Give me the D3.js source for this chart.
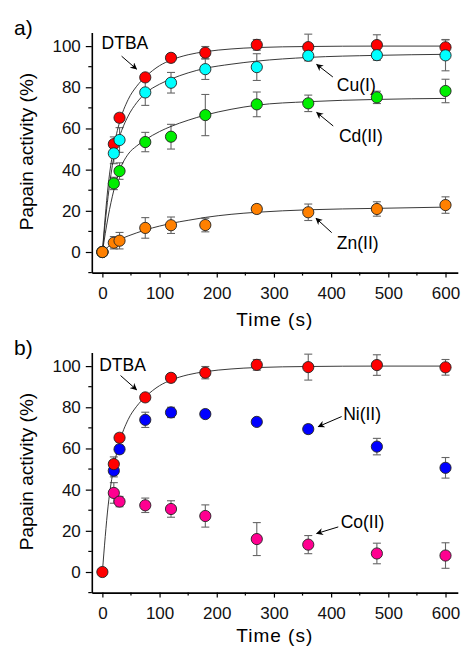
<!DOCTYPE html>
<html>
<head>
<meta charset="utf-8">
<script src="https://cdn.jsdelivr.net/npm/d3@7"></script>
<style>
  body { margin: 0; background: #fff; }
  svg { font-family: Arial, "Liberation Sans", sans-serif; }
</style>
</head>
<body>
<div id="chart"></div>
<script>
// sampling times (s)
const times = [0, 20, 30, 75, 120, 180, 270, 360, 480, 600];
const timesNoZero = [20, 30, 75, 120, 180, 270, 360, 480, 600];

// panel a
const dtba = [0, 52.4, 65.2, 84.8, 94.3, 96.8, 100.6, 99.5, 100.5, 99.4];
const dtbaErr = [0, 3.5, 2, 1, 2, 3, 2.6, 6.3, 5, 3.8];
const cu = [0, 47.9, 54.4, 77.5, 82.2, 88.8, 89.8, 95.3, 95.6, 95.5];
const cuErr = [0, 5, 6, 6.3, 5, 5, 6.5, 2.5, 2.5, 7.5];
const cd = [0, 33.3, 39.3, 53.4, 56, 66.5, 71.7, 72.2, 75.1, 78.2];
const cdErr = [0, 3, 4, 4.7, 6, 10, 6, 4, 3, 5.7];
const zn = [0, 4.5, 5.5, 11.7, 13, 13.1, 20.9, 19.3, 20.9, 22.8];
const znErr = [0, 3, 4, 5, 4, 3.3, 2, 4, 3.5, 4];

// panel b
const ni = [49.2, 59.6, 73.9, 77.5, 76.7, 72.9, 69.4, 60.9, 50.6];
const niErr = [3, 2, 3.7, 2.5, 1.5, 1.5, 2, 4, 5];
const co = [38.4, 34.2, 32.4, 30.6, 27.2, 16, 13.3, 9, 8];
const coErr = [5, 2.5, 3.5, 4, 5.4, 8, 4.4, 5, 6.2];

// fitted curves
const fitTimes = [0, 10, 20, 30, 45, 60, 75, 100, 120, 150, 180, 225, 270, 360, 480, 600];
const dtbaFit = [0, 32, 51, 63, 74, 80.5, 85, 90.5, 93.2, 95.8, 97.3, 98.6, 99.3, 99.8, 100, 100];
const cuFit = [0, 27, 46, 56, 66, 72.5, 77, 81.5, 84, 87, 89.2, 91.2, 92.7, 94.5, 95.5, 96];
const cdFit = [0, 17, 30, 39.5, 47.5, 51.5, 54.5, 58.5, 61, 64, 66.5, 69.3, 71.3, 73, 74.1, 74.6];
const znFit = [0, 2.5, 4.5, 6, 7.8, 9.3, 10.7, 12.6, 13.9, 15.4, 16.8, 18.3, 19.3, 20.5, 21.2, 21.8];

const xTicks = [0, 100, 200, 300, 400, 500, 600];
const yTicks = [0, 20, 40, 60, 80, 100];

const width = 461, height = 647;
const svg = d3.select('#chart').append('svg')
    .attr('width', width)
    .attr('height', height);

svg.append('defs').append('marker')
    .attr('id', 'arrow')
    .attr('viewBox', '0 0 10 10')
    .attr('refX', 9).attr('refY', 5)
    .attr('markerWidth', 7).attr('markerHeight', 7)
    .attr('markerUnits', 'userSpaceOnUse')
    .attr('orient', 'auto')
    .append('path')
    .attr('d', 'M0,0 L10,5 L0,10 L3,5 Z')
    .attr('fill', '#000');

const x = d3.scaleLinear().domain([-18.5, 621.5]).range([91.8, 457.8]);
const y = d3.scaleLinear().domain([-10, 106.6]).range([272.6, 32.5]);

function drawPanel(g, label, titleY, series, fits, notes) {
    // axes
    const xAxis = g.append('g').attr('transform', `translate(0,${y.range()[0]})`);
    xAxis.call(d3.axisBottom(x).tickValues(xTicks).tickSize(5).tickPadding(9).tickSizeOuter(0));
    xAxis.selectAll('.minor').data(d3.range(50, 601, 100)).enter().append('line')
        .attr('x1', d => x(d)).attr('x2', d => x(d))
        .attr('y1', 0).attr('y2', 3).attr('stroke', '#000').attr('stroke-width', 1.2);

    const yAxis = g.append('g').attr('transform', `translate(${x.range()[0]},0)`);
    yAxis.call(d3.axisLeft(y).tickValues(yTicks).tickSize(6).tickPadding(5).tickSizeOuter(0));
    yAxis.selectAll('.minor').data(d3.range(-10, 101, 20)).enter().append('line')
        .attr('x1', 0).attr('x2', -3.5)
        .attr('y1', d => y(d)).attr('y2', d => y(d))
        .attr('stroke', '#000').attr('stroke-width', 1.2);

    g.selectAll('.domain').attr('stroke-width', 1.6);
    g.selectAll('.tick line').attr('stroke-width', 1.2);
    g.selectAll('.tick text').attr('font-size', 17).attr('fill', '#111')
        .attr('font-family', 'Arial, "Liberation Sans", sans-serif');

    g.append('text')
        .attr('x', (x.range()[0] + x.range()[1]) / 2)
        .attr('y', titleY)
        .attr('text-anchor', 'middle')
        .attr('font-size', 19)
        .attr('letter-spacing', 1)
        .text('Time (s)');

    g.append('text')
        .attr('transform', `translate(33,${(y.range()[0] + y.range()[1]) / 2 - 1}) rotate(-90)`)
        .attr('text-anchor', 'middle')
        .attr('font-size', 19)
        .text('Papain activity (%)');

    g.append('text')
        .attr('x', 14).attr('y', 35)
        .attr('font-size', 21)
        .text(label);

    // error bars
    series.forEach(s => {
        const eb = g.append('g').attr('stroke', '#666').attr('stroke-width', 1.1);
        s.t.forEach((t, i) => {
            const e = s.err[i];
            if (!e) return;
            const cx = x(t), y1 = y(s.v[i] - e), y2 = y(s.v[i] + e);
            eb.append('line').attr('x1', cx).attr('x2', cx).attr('y1', y1).attr('y2', y2);
            eb.append('line').attr('x1', cx - 4).attr('x2', cx + 4).attr('y1', y1).attr('y2', y1);
            eb.append('line').attr('x1', cx - 4).attr('x2', cx + 4).attr('y1', y2).attr('y2', y2);
        });
    });

    // fitted curves
    const line = d3.line().x(d => x(d[0])).y(d => y(d[1])).curve(d3.curveMonotoneX);
    fits.forEach(f => {
        g.append('path')
            .attr('d', line(fitTimes.map((t, i) => [t, f[i]])))
            .attr('fill', 'none')
            .attr('stroke', '#222')
            .attr('stroke-width', 0.9);
    });

    // markers
    series.forEach(s => {
        g.append('g').selectAll('circle')
            .data(s.t.map((t, i) => [t, s.v[i]]))
            .enter().append('circle')
            .attr('cx', d => x(d[0]))
            .attr('cy', d => y(d[1]))
            .attr('r', 5.6)
            .attr('fill', s.color)
            .attr('stroke', '#222')
            .attr('stroke-width', 0.9);
    });

    // labels with arrows
    notes.forEach(n => {
        g.append('text')
            .attr('x', x(n.tx)).attr('y', y(n.ty))
            .attr('font-size', 17.5)
            .text(n.text);
        g.append('line')
            .attr('x1', x(n.a[0])).attr('y1', y(n.a[1]))
            .attr('x2', x(n.a[2])).attr('y2', y(n.a[3]))
            .attr('stroke', '#000').attr('stroke-width', 1)
            .attr('marker-end', 'url(#arrow)');
    });
}

const panelA = svg.append('g');
drawPanel(panelA, 'a)', 326, [
    { t: times, v: dtba, err: dtbaErr, color: '#ff0000' },
    { t: times, v: cu, err: cuErr, color: '#00ffff' },
    { t: times, v: cd, err: cdErr, color: '#00ee00' },
    { t: times, v: zn, err: znErr, color: '#ff8000' }
], [dtbaFit, cuFit, cdFit, znFit], [
    { text: 'DTBA', tx: -1.4, ty: 98.5, a: [33.6, 95.1, 59.8, 88.8] },
    { text: 'Cu(I)', tx: 410, ty: 78.3, a: [403, 85, 374.7, 91.1] },
    { text: 'Cd(II)', tx: 413.7, ty: 53.5, a: [403.7, 61.2, 374.7, 67.8] },
    { text: 'Zn(II)', tx: 410, ty: 1.3, a: [401, 9.4, 373.5, 16.4] }
]);

const panelB = svg.append('g').attr('transform', 'translate(0,320)');
drawPanel(panelB, 'b)', 322, [
    { t: timesNoZero, v: co, err: coErr, color: '#ff0090' },
    { t: timesNoZero, v: ni, err: niErr, color: '#0000ff' },
    { t: times, v: dtba, err: dtbaErr, color: '#ff0000' }
], [dtbaFit], [
    { text: 'DTBA', tx: -5.6, ty: 97.5, a: [31.8, 95.4, 59.8, 88.5] },
    { text: 'Ni(II)', tx: 421, ty: 73.9, a: [418.4, 75.5, 377.5, 70.6] },
    { text: 'Co(II)', tx: 416.7, ty: 21.4, a: [412.5, 21.9, 374.7, 18.7] }
]);
</script>
</body>
</html>
